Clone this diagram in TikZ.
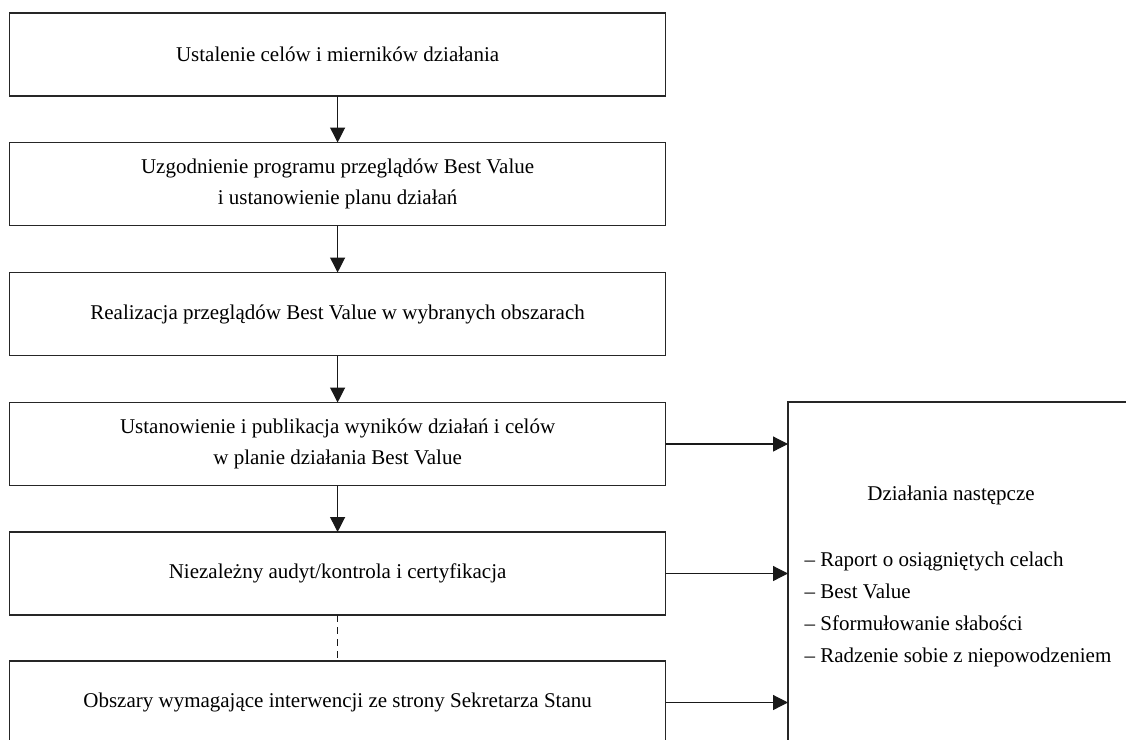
\documentclass[tikz,border=0pt]{standalone}
\usepackage{fontspec}
\setmainfont{Liberation Serif}
\usetikzlibrary{arrows.meta}
\begin{document}
\begin{tikzpicture}[x=1pt,y=-1pt,
  line width=1.2pt,
  every node/.style={font=\fontsize{21pt}{31pt}\selectfont},
  stepbox/.style={draw=black!85, rectangle, minimum width=656pt, minimum height=83pt, inner sep=0pt, align=center, outer sep=0pt},
  arr/.style={draw=black!90, -{Triangle[length=15pt,width=15pt]}},
  dashcon/.style={draw=black!90, dash pattern=on 7pt off 5pt}
]
\useasboundingbox (0,0) rectangle (1126,739);
\clip (0,0) rectangle (1126,739);
\node[stepbox] (b1) at (337.6,54.5) {Ustalenie celów i mierników działania};
\node[stepbox] (b2) at (337.6,184) {Uzgodnienie programu przeglądów Best Value\\i ustanowienie planu działań};
\node[stepbox] (b3) at (337.6,314) {Realizacja przeglądów Best Value w wybranych obszarach};
\node[stepbox] (b4) at (337.6,444) {Ustanowienie i publikacja wyników działań i celów\\w planie działania Best Value};
\node[stepbox] (b5) at (337.6,573.5) {Niezależny audyt/kontrola i certyfikacja};
\node[stepbox] (b6) at (337.6,702.5) {Obszary wymagające interwencji ze strony Sekretarza Stanu};
\node[draw=black!85, rectangle, inner sep=0pt, outer sep=0pt, minimum width=360pt, minimum height=360pt, anchor=north west] (f) at (788,402) {};
\node (ft) at (951,495) {Działania następcze};
\node[anchor=north west, align=left, inner sep=0pt, font=\fontsize{21pt}{32pt}\selectfont] (fl) at (804,551) {– Raport o osiągniętych celach\\– Best Value\\– Sformułowanie słabości\\– Radzenie sobie z niepowodzeniem};
\draw[arr] (b1) -- (b2);
\draw[arr] (b2) -- (b3);
\draw[arr] (b3) -- (b4);
\draw[arr] (b4) -- (b5);
\draw[dashcon] (b5) -- (b6);
\draw[arr] (b4.east) -- (b4.east -| f.west);
\draw[arr] (b5.east) -- (b5.east -| f.west);
\draw[arr] (b6.east) -- (b6.east -| f.west);
\end{tikzpicture}
\end{document}
